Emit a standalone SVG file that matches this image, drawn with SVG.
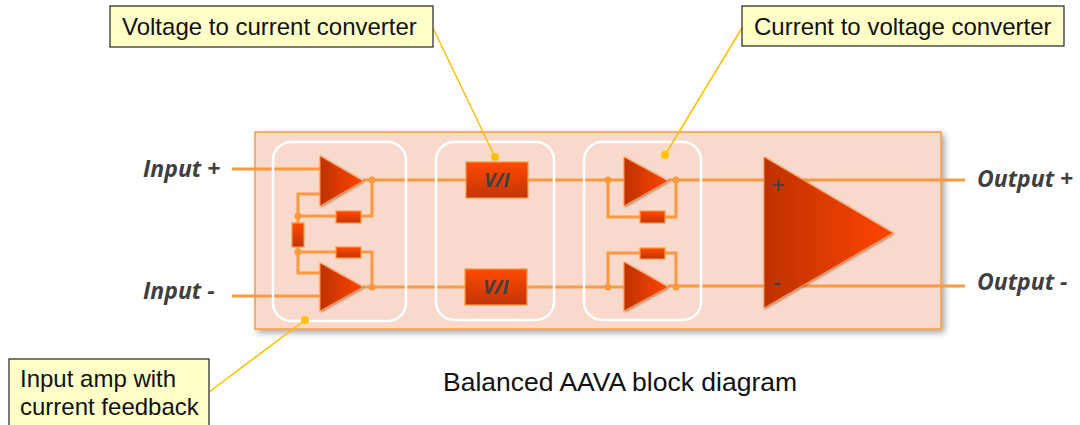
<svg xmlns="http://www.w3.org/2000/svg" width="1080" height="425" viewBox="0 0 1080 425">
<defs>
<linearGradient id="gAmp" x1="0" y1="0" x2="1" y2="0"><stop offset="0" stop-color="#BE3200"/><stop offset="1" stop-color="#FF4400"/></linearGradient>
<linearGradient id="gBox" x1="0" y1="0" x2="0" y2="1"><stop offset="0" stop-color="#FF4A00"/><stop offset="1" stop-color="#C23408"/></linearGradient>
<filter id="sh" x="-10%" y="-10%" width="125%" height="130%"><feDropShadow dx="3" dy="3" stdDeviation="3" flood-color="#000" flood-opacity="0.35"/></filter>
<filter id="sh2" x="-20%" y="-20%" width="150%" height="150%"><feDropShadow dx="1" dy="1" stdDeviation="1" flood-color="#7a2a00" flood-opacity="0.5"/></filter>
</defs>
<style>
.wire{fill:none;stroke:#F99A40;stroke-width:3}
.amp{fill:url(#gAmp);stroke:#F99A40;stroke-width:1;filter:url(#sh2)}
.res{fill:url(#gBox);stroke:#F99A40;stroke-width:1.2}
.grp{fill:none;stroke:#FFFFFF;stroke-width:2.5}
.jd{fill:#F99A40}
.lbl{font-family:"Open Sans","DejaVu Sans",sans-serif;font-weight:bold;font-style:italic;font-size:23px;fill:#3F3F3F}
.vi{font-family:"Open Sans","DejaVu Sans",sans-serif;font-weight:bold;font-style:italic;font-size:19px;fill:#404040;text-anchor:middle}
.call{fill:#FFFFC8;stroke:#222;stroke-width:1.2}
.ct{font-family:"Liberation Sans",Arial,sans-serif;font-size:24px;fill:#111}
.lead{fill:none;stroke:#FFC000;stroke-width:1.5}
.dot{fill:#FFC000}
.pm{font-family:"Liberation Sans",Arial,sans-serif;font-size:24px;fill:#404040;text-anchor:middle}
</style>
<rect id="panel" x="255" y="132" width="686" height="197" fill="#F8D9CC" stroke="#F99A40" stroke-width="1.5" filter="url(#sh)"/>
<g id="connectors">
<path class="wire" d="M232 169H320M232 296H320"/>
<path class="wire" d="M363 180H466M528 180H624M668 180H965"/>
<path class="wire" d="M363 287H465M527 287H624M668 286H965"/>
<path class="wire" d="M320 194H298V273H320"/>
<path class="wire" d="M298 216H336M361 216H372V180"/>
<path class="wire" d="M298 252H336M361 252H372V287"/>
<path class="wire" d="M608 180V217H640M665 217H676V180"/>
<path class="wire" d="M608 287V253H640M665 253H676V287"/>
<circle class="jd" cx="372" cy="180" r="3.5"/>
<circle class="jd" cx="372" cy="287" r="3.5"/>
<circle class="jd" cx="298" cy="216" r="3.5"/>
<circle class="jd" cx="298" cy="252" r="3.5"/>
<circle class="jd" cx="608" cy="180" r="3.5"/>
<circle class="jd" cx="676" cy="180" r="3.5"/>
<circle class="jd" cx="608" cy="287" r="3.5"/>
<circle class="jd" cx="676" cy="287" r="3.5"/>
</g>
<g id="input-amp">
<rect class="grp" x="273" y="142" width="133" height="179" rx="18"/>
<polygon class="amp" points="320,156 363,181 320,206"/>
<polygon class="amp" points="320,263 363,287 320,311"/>
<rect class="res" x="336" y="211" width="25" height="12"/>
<rect class="res" x="336" y="247" width="25" height="11"/>
<rect class="res" x="292" y="223" width="12" height="24"/>
</g>
<g id="vi-converter">
<rect class="grp" x="436" y="142" width="118" height="178" rx="18"/>
<rect class="res" x="466" y="162" width="62" height="36"/>
<text class="vi" x="497" y="187">V/I</text>
<rect class="res" x="465" y="269" width="62" height="36"/>
<text class="vi" x="496" y="294">V/I</text>
</g>
<g id="iv-converter">
<rect class="grp" x="584" y="142" width="117" height="178" rx="18"/>
<polygon class="amp" points="624,157 668,181 624,206"/>
<polygon class="amp" points="624,262 668,287 624,311"/>
<rect class="res" x="640" y="211" width="25" height="12"/>
<rect class="res" x="640" y="248" width="25" height="11"/>
</g>
<g id="output-amp">
<polygon class="amp" points="764,157 893,233 764,308"/>
<text class="pm" x="778" y="193">+</text>
<text class="pm" x="777" y="290">-</text>
</g>
<g id="labels">
<text class="lbl" x="143" y="177">Input +</text>
<text class="lbl" x="143" y="299">Input -</text>
<text class="lbl" x="977" y="187">Output +</text>
<text class="lbl" x="977" y="290">Output -</text>
</g>
<g id="callout-vi">
<path class="lead" d="M433 28L495 157"/>
<circle class="dot" cx="495" cy="157" r="4"/>
<rect class="call" x="110" y="6" width="323" height="41"/>
<text class="ct" x="122" y="35">Voltage to current converter</text>
</g>
<g id="callout-iv">
<path class="lead" d="M742 28L665 155"/>
<circle class="dot" cx="665" cy="155" r="4"/>
<rect class="call" x="742" y="6" width="322" height="40"/>
<text class="ct" x="754" y="35">Current to voltage converter</text>
</g>
<g id="callout-input">
<path class="lead" d="M209 392L305 320"/>
<circle class="dot" cx="305" cy="320" r="4"/>
<rect class="call" x="9" y="359" width="200" height="70"/>
<text class="ct" x="20" y="387">Input amp with</text>
<text class="ct" x="20" y="415">current feedback</text>
</g>
<text id="caption" x="443" y="391" font-family="'Liberation Sans',Arial,sans-serif" font-size="26.5" fill="#111">Balanced AAVA block diagram</text>
</svg>
